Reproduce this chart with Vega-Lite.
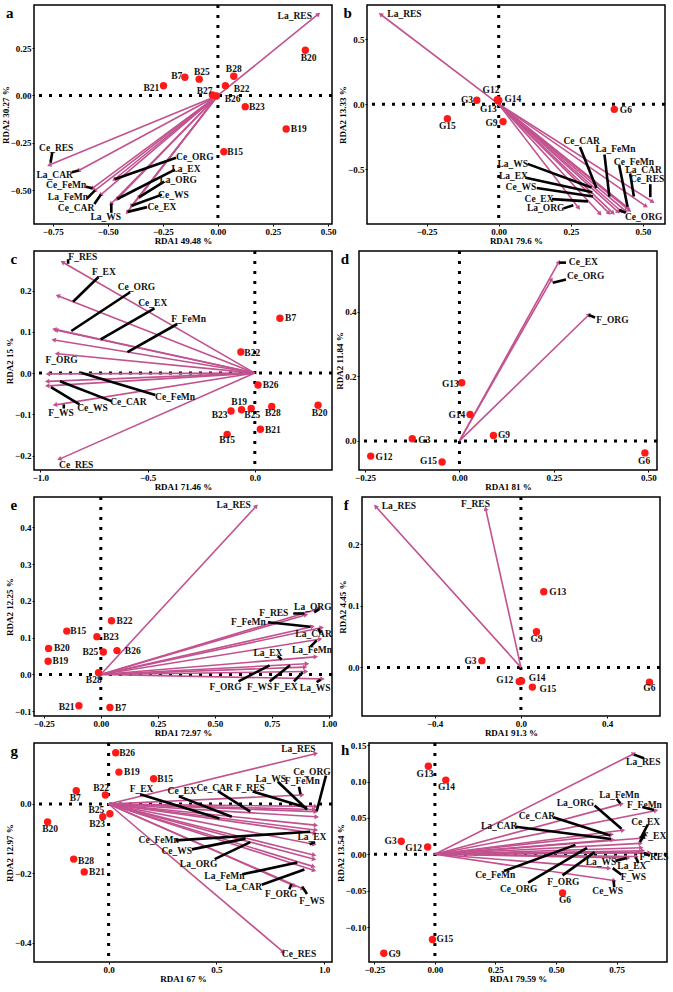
{
"$schema": "https://vega.github.io/schema/vega-lite/v6.json",
"padding": {"left": 0, "top": 2, "right": 0, "bottom": 0},
"config": {
 "view": {"stroke": "black", "strokeWidth": 1.5},
 "axis": {"grid": false, "domain": false, "tickColor": "black", "tickSize": 2, "labelFont": "Liberation Serif", "labelFontWeight": "bold", "labelFontSize": 9, "labelColor": "black", "labelPadding": 1, "labelOverlap": false, "labelFlush": false, "titleFont": "Liberation Serif", "titleFontWeight": "bold", "titleFontSize": 9, "titleColor": "black", "titlePadding": 0},
 "title": {"font": "Liberation Serif", "fontWeight": "bold", "fontSize": 15, "anchor": "start", "offset": -17, "dx": 5, "color": "black"},
 "text": {"font": "Liberation Serif", "fontWeight": "bold", "fontSize": 9.5, "color": "#111111"},
 "concat": {"spacing": 0}
},
"datasets": {
"vec": [
{"p":"a","n":"La_RES","x":0.454,"y":0.427,"tx":0.349,"ty":0.418},
{"p":"a","n":"Ce_RES","x":-0.763,"y":-0.366,"tx":-0.734,"ty":-0.277,"ax":-0.760,"ay":-0.355,"bx":-0.752,"by":-0.300},
{"p":"a","n":"La_CAR","x":-0.632,"y":-0.396,"tx":-0.741,"ty":-0.417,"ax":-0.632,"ay":-0.396,"bx":-0.663,"by":-0.405},
{"p":"a","n":"Ce_FeMn","x":-0.569,"y":-0.489,"tx":-0.689,"ty":-0.470,"ax":-0.569,"ay":-0.489,"bx":-0.599,"by":-0.481},
{"p":"a","n":"La_FeMn","x":-0.558,"y":-0.501,"tx":-0.681,"ty":-0.535,"ax":-0.558,"ay":-0.501,"bx":-0.594,"by":-0.543},
{"p":"a","n":"Ce_CAR","x":-0.531,"y":-0.523,"tx":-0.644,"ty":-0.594,"ax":-0.531,"ay":-0.523,"bx":-0.561,"by":-0.573},
{"p":"a","n":"La_WS","x":-0.484,"y":-0.570,"tx":-0.509,"ty":-0.641,"ax":-0.484,"ay":-0.570,"bx":-0.484,"by":-0.619},
{"p":"a","n":"Ce_ORG","x":-0.469,"y":-0.442,"tx":-0.105,"ty":-0.324,"ax":-0.469,"ay":-0.442,"bx":-0.190,"by":-0.329},
{"p":"a","n":"La_EX","x":-0.457,"y":-0.546,"tx":-0.145,"ty":-0.388,"ax":-0.457,"ay":-0.546,"bx":-0.195,"by":-0.391},
{"p":"a","n":"La_ORG","x":-0.359,"y":-0.538,"tx":-0.180,"ty":-0.447,"ax":-0.359,"ay":-0.538,"bx":-0.244,"by":-0.454},
{"p":"a","n":"Ce_WS","x":-0.392,"y":-0.582,"tx":-0.202,"ty":-0.523,"ax":-0.392,"ay":-0.582,"bx":-0.254,"by":-0.523},
{"p":"a","n":"Ce_EX","x":-0.410,"y":-0.614,"tx":-0.254,"ty":-0.589,"ax":-0.410,"ay":-0.614,"bx":-0.322,"by":-0.589},

{"p":"b","n":"La_RES","x":-0.408,"y":0.687,"tx":-0.327,"ty":0.692},
{"p":"b","n":"Ce_CAR","x":0.424,"y":-0.821,"tx":0.288,"ty":-0.280,"ax":0.282,"ay":-0.330,"bx":0.339,"by":-0.645},
{"p":"b","n":"La_FeMn","x":0.439,"y":-0.819,"tx":0.405,"ty":-0.342,"ax":0.367,"ay":-0.387,"bx":0.384,"by":-0.710},
{"p":"b","n":"Ce_FeMn","x":0.447,"y":-0.794,"tx":0.469,"ty":-0.442,"ax":0.418,"ay":-0.467,"bx":0.447,"by":-0.789},
{"p":"b","n":"La_CAR","x":0.509,"y":-0.782,"tx":0.503,"ty":-0.509,"ax":0.456,"ay":-0.533,"bx":0.469,"by":-0.710},
{"p":"b","n":"Ce_RES","x":0.532,"y":-0.747,"tx":0.515,"ty":-0.573,"ax":0.526,"ay":-0.615,"bx":0.526,"by":-0.715},
{"p":"b","n":"La_WS","x":0.413,"y":-0.826,"tx":0.049,"ty":-0.459,"ax":0.100,"ay":-0.459,"bx":0.322,"by":-0.640},
{"p":"b","n":"La_EX","x":0.395,"y":-0.834,"tx":0.051,"ty":-0.553,"ax":0.094,"ay":-0.566,"bx":0.325,"by":-0.677},
{"p":"b","n":"Ce_WS","x":0.381,"y":-0.834,"tx":0.077,"ty":-0.635,"ax":0.132,"ay":-0.645,"bx":0.327,"by":-0.710},
{"p":"b","n":"Ce_EX","x":0.350,"y":-0.839,"tx":0.140,"ty":-0.730,"ax":0.185,"ay":-0.730,"bx":0.310,"by":-0.747},
{"p":"b","n":"La_ORG","x":0.276,"y":-0.794,"tx":0.163,"ty":-0.801,"ax":0.225,"ay":-0.801,"bx":0.259,"by":-0.777},
{"p":"b","n":"Ce_ORG","x":0.452,"y":-0.814,"tx":0.503,"ty":-0.864,"ax":0.441,"ay":-0.834,"bx":0.418,"by":-0.814},

{"p":"c","n":"F_RES","x":-0.894,"y":0.268,"tx":-0.802,"ty":0.281,"ax":-0.871,"ay":0.265,"bx":-0.871,"by":0.276},
{"p":"c","n":"F_EX","x":-0.916,"y":0.187,"tx":-0.704,"ty":0.245,"ax":-0.848,"ay":0.173,"bx":-0.729,"by":0.233},
{"p":"c","n":"Ce_ORG","x":-0.932,"y":0.106,"tx":-0.552,"ty":0.209,"ax":-0.856,"ay":0.102,"bx":-0.582,"by":0.196},
{"p":"c","n":"Ce_EX","x":-0.924,"y":0.104,"tx":-0.476,"ty":0.170,"ax":-0.719,"ay":0.082,"bx":-0.468,"by":0.157},
{"p":"c","n":"F_FeMn","x":-0.935,"y":0.080,"tx":-0.309,"ty":0.131,"ax":-0.594,"ay":0.051,"bx":-0.362,"by":0.119},
{"p":"c","n":"F_ORG","x":-0.919,"y":0.047,"tx":-0.901,"ty":0.031},
{"p":"c","n":"Ce_FeMn","x":-0.962,"y":-0.002,"tx":-0.372,"ty":-0.057,"ax":-0.807,"ay":0.000,"bx":-0.464,"by":-0.053},
{"p":"c","n":"Ce_CAR","x":-0.965,"y":-0.020,"tx":-0.590,"ty":-0.071,"ax":-0.909,"ay":-0.020,"bx":-0.669,"by":-0.068},
{"p":"c","n":"Ce_WS","x":-0.965,"y":-0.031,"tx":-0.757,"ty":-0.084,"ax":-0.951,"ay":-0.034,"bx":-0.818,"by":-0.076},
{"p":"c","n":"F_WS","x":-0.929,"y":-0.077,"tx":-0.904,"ty":-0.098,"ax":-0.891,"ay":-0.076,"bx":-0.891,"by":-0.086},
{"p":"c","n":"Ce_RES","x":-0.909,"y":-0.208,"tx":-0.833,"ty":-0.222},

{"p":"d","n":"Ce_EX","x":0.262,"y":0.552,"tx":0.328,"ty":0.553,"ax":0.264,"ay":0.552,"bx":0.282,"by":0.552},
{"p":"d","n":"Ce_ORG","x":0.243,"y":0.498,"tx":0.334,"ty":0.510,"ax":0.247,"ay":0.490,"bx":0.282,"by":0.500},
{"p":"d","n":"F_ORG","x":0.342,"y":0.390,"tx":0.405,"ty":0.375,"ax":0.342,"ay":0.390,"bx":0.359,"by":0.382},

{"p":"e","n":"La_RES","x":0.680,"y":0.457,"tx":0.583,"ty":0.460},
{"p":"e","n":"La_ORG","x":0.957,"y":0.179,"tx":0.930,"ty":0.185,"ax":0.936,"ay":0.169,"bx":0.957,"by":0.178},
{"p":"e","n":"F_RES","x":0.897,"y":0.162,"tx":0.759,"ty":0.168,"ax":0.844,"ay":0.166,"bx":0.893,"by":0.166},
{"p":"e","n":"F_FeMn","x":0.926,"y":0.130,"tx":0.647,"ty":0.144,"ax":0.733,"ay":0.142,"bx":0.919,"by":0.130},
{"p":"e","n":"La_CAR","x":0.966,"y":0.127,"tx":0.933,"ty":0.110,"ax":0.954,"ay":0.125,"bx":0.964,"by":0.112},
{"p":"e","n":"La_FeMn","x":0.959,"y":0.096,"tx":0.926,"ty":0.066,"ax":0.919,"ay":0.075,"bx":0.947,"by":0.093},
{"p":"e","n":"La_EX","x":0.940,"y":0.048,"tx":0.733,"ty":0.059,"ax":0.776,"ay":0.050,"bx":0.793,"by":0.041},
{"p":"e","n":"F_ORG","x":0.901,"y":0.029,"tx":0.547,"ty":-0.033,"ax":0.604,"ay":-0.019,"bx":0.740,"by":0.025},
{"p":"e","n":"F_WS","x":0.893,"y":0.020,"tx":0.697,"ty":-0.033,"ax":0.740,"ay":-0.019,"bx":0.830,"by":0.025},
{"p":"e","n":"F_EX","x":0.897,"y":0.008,"tx":0.811,"ty":-0.033,"ax":0.847,"ay":-0.019,"bx":0.886,"by":0.006},
{"p":"e","n":"La_WS","x":0.969,"y":-0.012,"tx":0.940,"ty":-0.037,"ax":0.947,"ay":-0.021,"bx":0.964,"by":-0.014},

{"p":"f","n":"La_RES","x":-0.672,"y":0.261,"tx":-0.566,"ty":0.262},
{"p":"f","n":"F_RES","x":-0.163,"y":0.257,"tx":-0.211,"ty":0.266},

{"p":"g","n":"La_RES","x":0.958,"y":0.145,"tx":0.880,"ty":0.160},
{"p":"g","n":"F_FeMn","x":0.895,"y":0.026,"tx":0.898,"ty":0.066,"ax":0.883,"ay":0.050,"bx":0.890,"by":0.028},
{"p":"g","n":"F_RES","x":0.958,"y":-0.007,"tx":0.657,"ty":0.045,"ax":0.668,"ay":0.036,"bx":0.920,"by":-0.011},
{"p":"g","n":"La_WS","x":0.950,"y":-0.016,"tx":0.752,"ty":0.071,"ax":0.785,"ay":0.064,"bx":0.920,"by":-0.016},
{"p":"g","n":"Ce_ORG","x":0.958,"y":-0.022,"tx":0.943,"ty":0.092,"ax":1.008,"ay":0.082,"bx":0.965,"by":-0.021},
{"p":"g","n":"Ce_CAR","x":0.962,"y":-0.037,"tx":0.492,"ty":0.045,"ax":0.507,"ay":0.037,"bx":0.657,"by":-0.022},
{"p":"g","n":"Ce_EX","x":0.958,"y":-0.061,"tx":0.341,"ty":0.037,"ax":0.326,"ay":0.022,"bx":0.571,"by":-0.037},
{"p":"g","n":"Ce_FeMn","x":0.958,"y":-0.075,"tx":0.232,"ty":-0.105,"ax":0.311,"ay":-0.105,"bx":0.935,"by":-0.080},
{"p":"g","n":"F_EX","x":0.953,"y":-0.084,"tx":0.153,"ty":0.042,"ax":0.146,"ay":0.028,"bx":0.514,"by":-0.042},
{"p":"g","n":"La_EX","x":0.950,"y":-0.116,"tx":0.943,"ty":-0.096,"ax":0.932,"ay":-0.116,"bx":0.958,"by":-0.110},
{"p":"g","n":"Ce_WS","x":0.950,"y":-0.147,"tx":0.316,"ty":-0.135,"ax":0.386,"ay":-0.131,"bx":0.635,"by":-0.100},
{"p":"g","n":"La_ORG","x":0.950,"y":-0.159,"tx":0.417,"ty":-0.173,"ax":0.492,"ay":-0.159,"bx":0.657,"by":-0.110},
{"p":"g","n":"La_FeMn","x":0.947,"y":-0.180,"tx":0.537,"ty":-0.208,"ax":0.620,"ay":-0.203,"bx":0.875,"by":-0.169},
{"p":"g","n":"La_CAR","x":0.950,"y":-0.191,"tx":0.627,"ty":-0.239,"ax":0.710,"ay":-0.233,"bx":0.908,"by":-0.189},
{"p":"g","n":"F_ORG","x":0.860,"y":-0.236,"tx":0.800,"ty":-0.260,"ax":0.838,"ay":-0.246,"bx":0.848,"by":-0.231},
{"p":"g","n":"F_WS","x":0.898,"y":-0.244,"tx":0.943,"ty":-0.280,"ax":0.920,"ay":-0.260,"bx":0.898,"by":-0.239},
{"p":"g","n":"Ce_RES","x":0.808,"y":-0.426,"tx":0.883,"ty":-0.433},

{"p":"h","n":"La_RES","x":0.819,"y":0.138,"tx":0.860,"ty":0.127,"ax":0.822,"ay":0.137,"bx":0.863,"by":0.132},
{"p":"h","n":"La_FeMn","x":0.768,"y":0.069,"tx":0.761,"ty":0.082,"ax":0.751,"ay":0.076,"bx":0.765,"by":0.070},
{"p":"h","n":"F_FeMn","x":0.910,"y":0.060,"tx":0.865,"ty":0.068,"ax":0.856,"ay":0.065,"bx":0.904,"by":0.061},
{"p":"h","n":"La_ORG","x":0.774,"y":0.033,"tx":0.580,"ty":0.070,"ax":0.659,"ay":0.067,"bx":0.770,"by":0.035},
{"p":"h","n":"Ce_EX","x":0.849,"y":0.022,"tx":0.870,"ty":0.045,"ax":0.879,"ay":0.041,"bx":0.849,"by":0.022},
{"p":"h","n":"Ce_CAR","x":0.727,"y":0.027,"tx":0.421,"ty":0.053,"ax":0.489,"ay":0.051,"bx":0.724,"by":0.026},
{"p":"h","n":"La_CAR","x":0.730,"y":0.020,"tx":0.265,"ty":0.039,"ax":0.333,"ay":0.038,"bx":0.727,"by":0.021},
{"p":"h","n":"F_EX","x":0.846,"y":0.015,"tx":0.906,"ty":0.025,"ax":0.870,"ay":0.029,"bx":0.846,"by":0.017},
{"p":"h","n":"Ce_FeMn","x":0.849,"y":0.009,"tx":0.249,"ty":-0.029,"ax":0.285,"ay":-0.023,"bx":0.580,"by":0.013},
{"p":"h","n":"Ce_ORG","x":0.856,"y":0.005,"tx":0.346,"ty":-0.048,"ax":0.385,"ay":-0.039,"bx":0.628,"by":0.009},
{"p":"h","n":"F_ORG","x":0.842,"y":0.003,"tx":0.530,"ty":-0.038,"ax":0.527,"ay":-0.029,"bx":0.659,"by":0.003},
{"p":"h","n":"F_RES","x":0.883,"y":0.002,"tx":0.904,"ty":-0.004,"ax":0.863,"ay":0.002,"bx":0.887,"by":-0.002},
{"p":"h","n":"La_WS","x":0.795,"y":-0.005,"tx":0.686,"ty":-0.010,"ax":0.745,"ay":-0.009,"bx":0.792,"by":-0.005},
{"p":"h","n":"La_EX","x":0.829,"y":-0.003,"tx":0.813,"ty":-0.016,"ax":0.829,"ay":-0.004,"bx":0.840,"by":-0.012},
{"p":"h","n":"F_WS","x":0.716,"y":-0.019,"tx":0.819,"ty":-0.031,"ax":0.734,"ay":-0.019,"bx":0.770,"by":-0.028},
{"p":"h","n":"Ce_WS","x":0.738,"y":-0.036,"tx":0.713,"ty":-0.050,"ax":0.738,"ay":-0.036,"bx":0.740,"by":-0.045}
],
"site": [
{"p":"a","n":"B20","x":0.397,"y":0.238,"tx":0.412,"ty":0.199},
{"p":"a","n":"B28","x":0.072,"y":0.101,"tx":0.072,"ty":0.140},
{"p":"a","n":"B22","x":0.034,"y":0.051,"tx":0.108,"ty":0.034},
{"p":"a","n":"B25","x":-0.085,"y":0.086,"tx":-0.073,"ty":0.123},
{"p":"a","n":"B7","x":-0.150,"y":0.096,"tx":-0.187,"ty":0.101},
{"p":"a","n":"B21","x":-0.247,"y":0.051,"tx":-0.302,"ty":0.039},
{"p":"a","n":"B27","x":-0.025,"y":0.002,"tx":-0.060,"ty":0.022},
{"p":"a","n":"B26","x":-0.007,"y":-0.003,"tx":0.067,"ty":-0.020},
{"p":"a","n":"B23","x":0.124,"y":-0.059,"tx":0.177,"ty":-0.062},
{"p":"a","n":"B19","x":0.310,"y":-0.177,"tx":0.367,"ty":-0.177},
{"p":"a","n":"B15","x":0.027,"y":-0.297,"tx":0.078,"ty":-0.298},

{"p":"b","n":"G3","x":-0.076,"y":0.030,"tx":-0.110,"ty":0.030},
{"p":"b","n":"G12","x":-0.005,"y":0.035,"tx":-0.027,"ty":0.109},
{"p":"b","n":"G14","x":0.000,"y":0.030,"tx":0.049,"ty":0.037},
{"p":"b","n":"G13","x":-0.002,"y":0.025,"tx":-0.036,"ty":-0.040},
{"p":"b","n":"G6","x":0.401,"y":-0.040,"tx":0.441,"ty":-0.045},
{"p":"b","n":"G15","x":-0.178,"y":-0.112,"tx":-0.178,"ty":-0.169},
{"p":"b","n":"G9","x":0.015,"y":-0.134,"tx":-0.025,"ty":-0.144},

{"p":"c","n":"B7","x":0.117,"y":0.133,"tx":0.167,"ty":0.133},
{"p":"c","n":"B22","x":-0.065,"y":0.051,"tx":-0.012,"ty":0.049},
{"p":"c","n":"B26","x":0.015,"y":-0.029,"tx":0.074,"ty":-0.029},
{"p":"c","n":"B19","x":-0.062,"y":-0.089,"tx":-0.073,"ty":-0.071},
{"p":"c","n":"B25","x":-0.017,"y":-0.086,"tx":-0.012,"ty":-0.102},
{"p":"c","n":"B23","x":-0.111,"y":-0.092,"tx":-0.164,"ty":-0.102},
{"p":"c","n":"B28","x":0.079,"y":-0.081,"tx":0.084,"ty":-0.098},
{"p":"c","n":"B20","x":0.295,"y":-0.078,"tx":0.302,"ty":-0.097},
{"p":"c","n":"B21","x":0.026,"y":-0.136,"tx":0.084,"ty":-0.137},
{"p":"c","n":"B15","x":-0.129,"y":-0.149,"tx":-0.129,"ty":-0.163},

{"p":"d","n":"G13","x":0.006,"y":0.180,"tx":-0.024,"ty":0.177},
{"p":"d","n":"G14","x":0.028,"y":0.082,"tx":-0.007,"ty":0.079},
{"p":"d","n":"G9","x":0.090,"y":0.017,"tx":0.118,"ty":0.017},
{"p":"d","n":"G3","x":-0.125,"y":0.007,"tx":-0.093,"ty":0.004},
{"p":"d","n":"G12","x":-0.235,"y":-0.047,"tx":-0.200,"ty":-0.049},
{"p":"d","n":"G15","x":-0.046,"y":-0.065,"tx":-0.082,"ty":-0.062},
{"p":"d","n":"G6","x":0.491,"y":-0.037,"tx":0.489,"ty":-0.062},

{"p":"e","n":"B22","x":0.047,"y":0.146,"tx":0.104,"ty":0.146},
{"p":"e","n":"B15","x":-0.149,"y":0.118,"tx":-0.099,"ty":0.118},
{"p":"e","n":"B23","x":-0.017,"y":0.103,"tx":0.044,"ty":0.103},
{"p":"e","n":"B20","x":-0.229,"y":0.071,"tx":-0.171,"ty":0.071},
{"p":"e","n":"B25","x":0.011,"y":0.061,"tx":-0.046,"ty":0.061},
{"p":"e","n":"B26","x":0.071,"y":0.065,"tx":0.140,"ty":0.063},
{"p":"e","n":"B19","x":-0.231,"y":0.036,"tx":-0.177,"ty":0.036},
{"p":"e","n":"B28","x":-0.010,"y":0.005,"tx":-0.031,"ty":-0.016},
{"p":"e","n":"B21","x":-0.096,"y":-0.085,"tx":-0.150,"ty":-0.088},
{"p":"e","n":"B7","x":0.040,"y":-0.090,"tx":0.087,"ty":-0.090},

{"p":"f","n":"G13","x":0.106,"y":0.123,"tx":0.171,"ty":0.123},
{"p":"f","n":"G9","x":0.072,"y":0.058,"tx":0.072,"ty":0.046},
{"p":"f","n":"G3","x":-0.181,"y":0.011,"tx":-0.234,"ty":0.011},
{"p":"f","n":"G12","x":-0.008,"y":-0.023,"tx":-0.075,"ty":-0.020},
{"p":"f","n":"G14","x":0.003,"y":-0.022,"tx":0.075,"ty":-0.017},
{"p":"f","n":"G15","x":0.053,"y":-0.032,"tx":0.125,"ty":-0.035},
{"p":"f","n":"G6","x":0.596,"y":-0.024,"tx":0.596,"ty":-0.034},

{"p":"g","n":"B26","x":0.033,"y":0.148,"tx":0.086,"ty":0.148},
{"p":"g","n":"B19","x":0.048,"y":0.092,"tx":0.108,"ty":0.092},
{"p":"g","n":"B15","x":0.209,"y":0.073,"tx":0.262,"ty":0.073},
{"p":"g","n":"B7","x":-0.150,"y":0.038,"tx":-0.155,"ty":0.017},
{"p":"g","n":"B22","x":-0.015,"y":0.026,"tx":-0.035,"ty":0.047},
{"p":"g","n":"B25","x":0.006,"y":-0.028,"tx":-0.057,"ty":-0.016},
{"p":"g","n":"B23","x":-0.027,"y":-0.037,"tx":-0.053,"ty":-0.058},
{"p":"g","n":"B20","x":-0.283,"y":-0.052,"tx":-0.271,"ty":-0.072},
{"p":"g","n":"B28","x":-0.162,"y":-0.159,"tx":-0.105,"ty":-0.164},
{"p":"g","n":"B21","x":-0.113,"y":-0.196,"tx":-0.054,"ty":-0.196},

{"p":"h","n":"G13","x":-0.027,"y":0.121,"tx":-0.041,"ty":0.111},
{"p":"h","n":"G14","x":0.045,"y":0.102,"tx":0.048,"ty":0.093},
{"p":"h","n":"G3","x":-0.139,"y":0.018,"tx":-0.183,"ty":0.018},
{"p":"h","n":"G12","x":-0.030,"y":0.010,"tx":-0.088,"ty":0.009},
{"p":"h","n":"G6","x":0.527,"y":-0.053,"tx":0.537,"ty":-0.063},
{"p":"h","n":"G15","x":-0.010,"y":-0.117,"tx":0.041,"ty":-0.117},
{"p":"h","n":"G9","x":-0.211,"y":-0.136,"tx":-0.167,"ty":-0.137}
]
},
"vconcat": [
{"hconcat": [
{"width": 298, "height": 219, "title": {"text": "a"}, "layer": [
 {"data": {"values": [{}]}, "mark": {"type": "rule", "strokeDash": [3, 7], "strokeWidth": 3, "color": "black"}, "encoding": {"x": {"datum": 0, "type": "quantitative", "scale": {"domain": [-0.835, 0.518], "nice": false, "zero": false}, "axis": {"title": "RDA1 49.48 %", "values": [-0.75, -0.5, -0.25, 0, 0.25, 0.5], "format": ".2f"}}}},
 {"data": {"values": [{}]}, "mark": {"type": "rule", "strokeDash": [3, 7], "strokeWidth": 3, "color": "black"}, "encoding": {"y": {"datum": 0, "type": "quantitative", "scale": {"domain": [-0.678, 0.477], "nice": false, "zero": false}, "axis": {"title": "RDA2 30.27 %", "values": [-0.5, -0.25, 0, 0.25], "format": ".2f"}}}},
 {"data": {"name": "vec"}, "transform": [{"filter": "datum.p == 'a'"}], "mark": {"type": "rule", "color": "#C2528F", "strokeWidth": 1.6}, "encoding": {"x": {"field": "x", "type": "quantitative"}, "y": {"field": "y", "type": "quantitative"}, "x2": {"datum": 0}, "y2": {"datum": 0}}},
 {"data": {"name": "vec"}, "transform": [{"filter": "datum.p == 'a'"}, {"calculate": "atan2(datum.x * 220.2, datum.y * 189.6) * 180 / PI", "as": "ang"}], "mark": {"type": "point", "shape": "triangle", "filled": true, "color": "#C2528F", "size": 26, "opacity": 1}, "encoding": {"x": {"field": "x", "type": "quantitative"}, "y": {"field": "y", "type": "quantitative"}, "angle": {"field": "ang", "type": "quantitative", "scale": null}}},
 {"data": {"name": "vec"}, "transform": [{"filter": "datum.p == 'a' && isValid(datum.ax)"}], "mark": {"type": "rule", "color": "black", "strokeWidth": 2.6}, "encoding": {"x": {"field": "ax", "type": "quantitative"}, "y": {"field": "ay", "type": "quantitative"}, "x2": {"field": "bx"}, "y2": {"field": "by"}}},
 {"data": {"name": "vec"}, "transform": [{"filter": "datum.p == 'a'"}], "mark": {"type": "text"}, "encoding": {"x": {"field": "tx", "type": "quantitative"}, "y": {"field": "ty", "type": "quantitative"}, "text": {"field": "n"}}},
 {"data": {"name": "site"}, "transform": [{"filter": "datum.p == 'a'"}], "mark": {"type": "point", "shape": "circle", "filled": true, "color": "#FF1A1A", "size": 55, "opacity": 1}, "encoding": {"x": {"field": "x", "type": "quantitative"}, "y": {"field": "y", "type": "quantitative"}}},
 {"data": {"name": "site"}, "transform": [{"filter": "datum.p == 'a'"}], "mark": {"type": "text"}, "encoding": {"x": {"field": "tx", "type": "quantitative"}, "y": {"field": "ty", "type": "quantitative"}, "text": {"field": "n"}}}
]},
{"width": 298, "height": 219, "title": {"text": "b"}, "layer": [
 {"data": {"values": [{}]}, "mark": {"type": "rule", "strokeDash": [3, 7], "strokeWidth": 3, "color": "black"}, "encoding": {"x": {"datum": 0, "type": "quantitative", "scale": {"domain": [-0.457, 0.577], "nice": false, "zero": false}, "axis": {"title": "RDA1 79.6 %", "values": [-0.25, 0, 0.25, 0.5], "format": ".2f"}}}},
 {"data": {"values": [{}]}, "mark": {"type": "rule", "strokeDash": [3, 7], "strokeWidth": 3, "color": "black"}, "encoding": {"y": {"datum": 0, "type": "quantitative", "scale": {"domain": [-0.921, 0.762], "nice": false, "zero": false}, "axis": {"title": "RDA2 13.33 %", "values": [-0.5, 0, 0.5], "format": ".1f"}}}},
 {"data": {"name": "vec"}, "transform": [{"filter": "datum.p == 'b'"}], "mark": {"type": "rule", "color": "#C2528F", "strokeWidth": 1.6}, "encoding": {"x": {"field": "x", "type": "quantitative"}, "y": {"field": "y", "type": "quantitative"}, "x2": {"datum": 0}, "y2": {"datum": 0}}},
 {"data": {"name": "vec"}, "transform": [{"filter": "datum.p == 'b'"}, {"calculate": "atan2(datum.x * 288.2, datum.y * 130.1) * 180 / PI", "as": "ang"}], "mark": {"type": "point", "shape": "triangle", "filled": true, "color": "#C2528F", "size": 26, "opacity": 1}, "encoding": {"x": {"field": "x", "type": "quantitative"}, "y": {"field": "y", "type": "quantitative"}, "angle": {"field": "ang", "type": "quantitative", "scale": null}}},
 {"data": {"name": "vec"}, "transform": [{"filter": "datum.p == 'b' && isValid(datum.ax)"}], "mark": {"type": "rule", "color": "black", "strokeWidth": 2.6}, "encoding": {"x": {"field": "ax", "type": "quantitative"}, "y": {"field": "ay", "type": "quantitative"}, "x2": {"field": "bx"}, "y2": {"field": "by"}}},
 {"data": {"name": "vec"}, "transform": [{"filter": "datum.p == 'b'"}], "mark": {"type": "text"}, "encoding": {"x": {"field": "tx", "type": "quantitative"}, "y": {"field": "ty", "type": "quantitative"}, "text": {"field": "n"}}},
 {"data": {"name": "site"}, "transform": [{"filter": "datum.p == 'b'"}], "mark": {"type": "point", "shape": "circle", "filled": true, "color": "#FF1A1A", "size": 55, "opacity": 1}, "encoding": {"x": {"field": "x", "type": "quantitative"}, "y": {"field": "y", "type": "quantitative"}}},
 {"data": {"name": "site"}, "transform": [{"filter": "datum.p == 'b'"}], "mark": {"type": "text"}, "encoding": {"x": {"field": "tx", "type": "quantitative"}, "y": {"field": "ty", "type": "quantitative"}, "text": {"field": "n"}}}
]}
]},
{"hconcat": [
{"width": 298, "height": 219, "title": {"text": "c"}, "layer": [
 {"data": {"values": [{}]}, "mark": {"type": "rule", "strokeDash": [3, 7], "strokeWidth": 3, "color": "black"}, "encoding": {"x": {"datum": 0, "type": "quantitative", "scale": {"domain": [-1.03, 0.36], "nice": false, "zero": false}, "axis": {"title": "RDA1 71.46 %", "values": [-1, -0.5, 0], "format": ".1f"}}}},
 {"data": {"values": [{}]}, "mark": {"type": "rule", "strokeDash": [3, 7], "strokeWidth": 3, "color": "black"}, "encoding": {"y": {"datum": 0, "type": "quantitative", "scale": {"domain": [-0.235, 0.296], "nice": false, "zero": false}, "axis": {"title": "RDA2 15 %", "values": [-0.2, -0.1, 0, 0.1, 0.2], "format": ".1f"}}}},
 {"data": {"name": "vec"}, "transform": [{"filter": "datum.p == 'c'"}], "mark": {"type": "rule", "color": "#C2528F", "strokeWidth": 1.6}, "encoding": {"x": {"field": "x", "type": "quantitative"}, "y": {"field": "y", "type": "quantitative"}, "x2": {"datum": 0}, "y2": {"datum": 0}}},
 {"data": {"name": "vec"}, "transform": [{"filter": "datum.p == 'c'"}, {"calculate": "atan2(datum.x * 214.4, datum.y * 412.4) * 180 / PI", "as": "ang"}], "mark": {"type": "point", "shape": "triangle", "filled": true, "color": "#C2528F", "size": 26, "opacity": 1}, "encoding": {"x": {"field": "x", "type": "quantitative"}, "y": {"field": "y", "type": "quantitative"}, "angle": {"field": "ang", "type": "quantitative", "scale": null}}},
 {"data": {"name": "vec"}, "transform": [{"filter": "datum.p == 'c' && isValid(datum.ax)"}], "mark": {"type": "rule", "color": "black", "strokeWidth": 2.6}, "encoding": {"x": {"field": "ax", "type": "quantitative"}, "y": {"field": "ay", "type": "quantitative"}, "x2": {"field": "bx"}, "y2": {"field": "by"}}},
 {"data": {"name": "vec"}, "transform": [{"filter": "datum.p == 'c'"}], "mark": {"type": "text"}, "encoding": {"x": {"field": "tx", "type": "quantitative"}, "y": {"field": "ty", "type": "quantitative"}, "text": {"field": "n"}}},
 {"data": {"name": "site"}, "transform": [{"filter": "datum.p == 'c'"}], "mark": {"type": "point", "shape": "circle", "filled": true, "color": "#FF1A1A", "size": 55, "opacity": 1}, "encoding": {"x": {"field": "x", "type": "quantitative"}, "y": {"field": "y", "type": "quantitative"}}},
 {"data": {"name": "site"}, "transform": [{"filter": "datum.p == 'c'"}], "mark": {"type": "text"}, "encoding": {"x": {"field": "tx", "type": "quantitative"}, "y": {"field": "ty", "type": "quantitative"}, "text": {"field": "n"}}}
]},
{"width": 298, "height": 219, "title": {"text": "d"}, "layer": [
 {"data": {"values": [{}]}, "mark": {"type": "rule", "strokeDash": [3, 7], "strokeWidth": 3, "color": "black"}, "encoding": {"x": {"datum": 0, "type": "quantitative", "scale": {"domain": [-0.266, 0.523], "nice": false, "zero": false}, "axis": {"title": "RDA1 81 %", "values": [-0.25, 0, 0.25, 0.5], "format": ".2f"}}}},
 {"data": {"values": [{}]}, "mark": {"type": "rule", "strokeDash": [3, 7], "strokeWidth": 3, "color": "black"}, "encoding": {"y": {"datum": 0, "type": "quantitative", "scale": {"domain": [-0.09, 0.588], "nice": false, "zero": false}, "axis": {"title": "RDA2 11.84 %", "values": [0, 0.2, 0.4], "format": ".1f"}}}},
 {"data": {"name": "vec"}, "transform": [{"filter": "datum.p == 'd'"}], "mark": {"type": "rule", "color": "#C2528F", "strokeWidth": 1.6}, "encoding": {"x": {"field": "x", "type": "quantitative"}, "y": {"field": "y", "type": "quantitative"}, "x2": {"datum": 0}, "y2": {"datum": 0}}},
 {"data": {"name": "vec"}, "transform": [{"filter": "datum.p == 'd'"}, {"calculate": "atan2(datum.x * 377.7, datum.y * 323.0) * 180 / PI", "as": "ang"}], "mark": {"type": "point", "shape": "triangle", "filled": true, "color": "#C2528F", "size": 26, "opacity": 1}, "encoding": {"x": {"field": "x", "type": "quantitative"}, "y": {"field": "y", "type": "quantitative"}, "angle": {"field": "ang", "type": "quantitative", "scale": null}}},
 {"data": {"name": "vec"}, "transform": [{"filter": "datum.p == 'd' && isValid(datum.ax)"}], "mark": {"type": "rule", "color": "black", "strokeWidth": 2.6}, "encoding": {"x": {"field": "ax", "type": "quantitative"}, "y": {"field": "ay", "type": "quantitative"}, "x2": {"field": "bx"}, "y2": {"field": "by"}}},
 {"data": {"name": "vec"}, "transform": [{"filter": "datum.p == 'd'"}], "mark": {"type": "text"}, "encoding": {"x": {"field": "tx", "type": "quantitative"}, "y": {"field": "ty", "type": "quantitative"}, "text": {"field": "n"}}},
 {"data": {"name": "site"}, "transform": [{"filter": "datum.p == 'd'"}], "mark": {"type": "point", "shape": "circle", "filled": true, "color": "#FF1A1A", "size": 55, "opacity": 1}, "encoding": {"x": {"field": "x", "type": "quantitative"}, "y": {"field": "y", "type": "quantitative"}}},
 {"data": {"name": "site"}, "transform": [{"filter": "datum.p == 'd'"}], "mark": {"type": "text"}, "encoding": {"x": {"field": "tx", "type": "quantitative"}, "y": {"field": "ty", "type": "quantitative"}, "text": {"field": "n"}}}
]}
]},
{"hconcat": [
{"width": 298, "height": 219, "title": {"text": "e"}, "layer": [
 {"data": {"values": [{}]}, "mark": {"type": "rule", "strokeDash": [3, 7], "strokeWidth": 3, "color": "black"}, "encoding": {"x": {"datum": 0, "type": "quantitative", "scale": {"domain": [-0.293, 1.014], "nice": false, "zero": false}, "axis": {"title": "RDA1 72.97 %", "values": [-0.25, 0, 0.25, 0.5, 0.75, 1], "format": ".2f"}}}},
 {"data": {"values": [{}]}, "mark": {"type": "rule", "strokeDash": [3, 7], "strokeWidth": 3, "color": "black"}, "encoding": {"y": {"datum": 0, "type": "quantitative", "scale": {"domain": [-0.113, 0.483], "nice": false, "zero": false}, "axis": {"title": "RDA2 12.25 %", "values": [-0.1, 0, 0.1, 0.2, 0.3, 0.4], "format": ".1f"}}}},
 {"data": {"name": "vec"}, "transform": [{"filter": "datum.p == 'e'"}], "mark": {"type": "rule", "color": "#C2528F", "strokeWidth": 1.6}, "encoding": {"x": {"field": "x", "type": "quantitative"}, "y": {"field": "y", "type": "quantitative"}, "x2": {"datum": 0}, "y2": {"datum": 0}}},
 {"data": {"name": "vec"}, "transform": [{"filter": "datum.p == 'e'"}, {"calculate": "atan2(datum.x * 228.0, datum.y * 367.4) * 180 / PI", "as": "ang"}], "mark": {"type": "point", "shape": "triangle", "filled": true, "color": "#C2528F", "size": 26, "opacity": 1}, "encoding": {"x": {"field": "x", "type": "quantitative"}, "y": {"field": "y", "type": "quantitative"}, "angle": {"field": "ang", "type": "quantitative", "scale": null}}},
 {"data": {"name": "vec"}, "transform": [{"filter": "datum.p == 'e' && isValid(datum.ax)"}], "mark": {"type": "rule", "color": "black", "strokeWidth": 2.6}, "encoding": {"x": {"field": "ax", "type": "quantitative"}, "y": {"field": "ay", "type": "quantitative"}, "x2": {"field": "bx"}, "y2": {"field": "by"}}},
 {"data": {"name": "vec"}, "transform": [{"filter": "datum.p == 'e'"}], "mark": {"type": "text"}, "encoding": {"x": {"field": "tx", "type": "quantitative"}, "y": {"field": "ty", "type": "quantitative"}, "text": {"field": "n"}}},
 {"data": {"name": "site"}, "transform": [{"filter": "datum.p == 'e'"}], "mark": {"type": "point", "shape": "circle", "filled": true, "color": "#FF1A1A", "size": 55, "opacity": 1}, "encoding": {"x": {"field": "x", "type": "quantitative"}, "y": {"field": "y", "type": "quantitative"}}},
 {"data": {"name": "site"}, "transform": [{"filter": "datum.p == 'e'"}], "mark": {"type": "text"}, "encoding": {"x": {"field": "tx", "type": "quantitative"}, "y": {"field": "ty", "type": "quantitative"}, "text": {"field": "n"}}}
]},
{"width": 298, "height": 219, "title": {"text": "f"}, "layer": [
 {"data": {"values": [{}]}, "mark": {"type": "rule", "strokeDash": [3, 7], "strokeWidth": 3, "color": "black"}, "encoding": {"x": {"datum": 0, "type": "quantitative", "scale": {"domain": [-0.737, 0.645], "nice": false, "zero": false}, "axis": {"title": "RDA1 91.3 %", "values": [-0.4, 0, 0.4], "format": ".1f"}}}},
 {"data": {"values": [{}]}, "mark": {"type": "rule", "strokeDash": [3, 7], "strokeWidth": 3, "color": "black"}, "encoding": {"y": {"datum": 0, "type": "quantitative", "scale": {"domain": [-0.079, 0.277], "nice": false, "zero": false}, "axis": {"title": "RDA2 4.45 %", "values": [0, 0.1, 0.2], "format": ".1f"}}}},
 {"data": {"name": "vec"}, "transform": [{"filter": "datum.p == 'f'"}], "mark": {"type": "rule", "color": "#C2528F", "strokeWidth": 1.6}, "encoding": {"x": {"field": "x", "type": "quantitative"}, "y": {"field": "y", "type": "quantitative"}, "x2": {"datum": 0}, "y2": {"datum": 0}}},
 {"data": {"name": "vec"}, "transform": [{"filter": "datum.p == 'f'"}, {"calculate": "atan2(datum.x * 215.6, datum.y * 615.2) * 180 / PI", "as": "ang"}], "mark": {"type": "point", "shape": "triangle", "filled": true, "color": "#C2528F", "size": 26, "opacity": 1}, "encoding": {"x": {"field": "x", "type": "quantitative"}, "y": {"field": "y", "type": "quantitative"}, "angle": {"field": "ang", "type": "quantitative", "scale": null}}},
 {"data": {"name": "vec"}, "transform": [{"filter": "datum.p == 'f'"}], "mark": {"type": "text"}, "encoding": {"x": {"field": "tx", "type": "quantitative"}, "y": {"field": "ty", "type": "quantitative"}, "text": {"field": "n"}}},
 {"data": {"name": "site"}, "transform": [{"filter": "datum.p == 'f'"}], "mark": {"type": "point", "shape": "circle", "filled": true, "color": "#FF1A1A", "size": 55, "opacity": 1}, "encoding": {"x": {"field": "x", "type": "quantitative"}, "y": {"field": "y", "type": "quantitative"}}},
 {"data": {"name": "site"}, "transform": [{"filter": "datum.p == 'f'"}], "mark": {"type": "text"}, "encoding": {"x": {"field": "tx", "type": "quantitative"}, "y": {"field": "ty", "type": "quantitative"}, "text": {"field": "n"}}}
]}
]},
{"hconcat": [
{"width": 298, "height": 219, "title": {"text": "g"}, "layer": [
 {"data": {"values": [{}]}, "mark": {"type": "rule", "strokeDash": [3, 7], "strokeWidth": 3, "color": "black"}, "encoding": {"x": {"datum": 0, "type": "quantitative", "scale": {"domain": [-0.346, 1.036], "nice": false, "zero": false}, "axis": {"title": "RDA1 67 %", "values": [0, 0.5, 1], "format": ".1f"}}}},
 {"data": {"values": [{}]}, "mark": {"type": "rule", "strokeDash": [3, 7], "strokeWidth": 3, "color": "black"}, "encoding": {"y": {"datum": 0, "type": "quantitative", "scale": {"domain": [-0.456, 0.176], "nice": false, "zero": false}, "axis": {"title": "RDA2 12.97 %", "values": [-0.4, -0.2, 0], "format": ".1f"}}}},
 {"data": {"name": "vec"}, "transform": [{"filter": "datum.p == 'g'"}], "mark": {"type": "rule", "color": "#C2528F", "strokeWidth": 1.6}, "encoding": {"x": {"field": "x", "type": "quantitative"}, "y": {"field": "y", "type": "quantitative"}, "x2": {"datum": 0}, "y2": {"datum": 0}}},
 {"data": {"name": "vec"}, "transform": [{"filter": "datum.p == 'g'"}, {"calculate": "atan2(datum.x * 215.6, datum.y * 346.5) * 180 / PI", "as": "ang"}], "mark": {"type": "point", "shape": "triangle", "filled": true, "color": "#C2528F", "size": 26, "opacity": 1}, "encoding": {"x": {"field": "x", "type": "quantitative"}, "y": {"field": "y", "type": "quantitative"}, "angle": {"field": "ang", "type": "quantitative", "scale": null}}},
 {"data": {"name": "vec"}, "transform": [{"filter": "datum.p == 'g' && isValid(datum.ax)"}], "mark": {"type": "rule", "color": "black", "strokeWidth": 2.6}, "encoding": {"x": {"field": "ax", "type": "quantitative"}, "y": {"field": "ay", "type": "quantitative"}, "x2": {"field": "bx"}, "y2": {"field": "by"}}},
 {"data": {"name": "vec"}, "transform": [{"filter": "datum.p == 'g'"}], "mark": {"type": "text"}, "encoding": {"x": {"field": "tx", "type": "quantitative"}, "y": {"field": "ty", "type": "quantitative"}, "text": {"field": "n"}}},
 {"data": {"name": "site"}, "transform": [{"filter": "datum.p == 'g'"}], "mark": {"type": "point", "shape": "circle", "filled": true, "color": "#FF1A1A", "size": 55, "opacity": 1}, "encoding": {"x": {"field": "x", "type": "quantitative"}, "y": {"field": "y", "type": "quantitative"}}},
 {"data": {"name": "site"}, "transform": [{"filter": "datum.p == 'g'"}], "mark": {"type": "text"}, "encoding": {"x": {"field": "tx", "type": "quantitative"}, "y": {"field": "ty", "type": "quantitative"}, "text": {"field": "n"}}}
]},
{"width": 298, "height": 219, "title": {"text": "h"}, "layer": [
 {"data": {"values": [{}]}, "mark": {"type": "rule", "strokeDash": [3, 7], "strokeWidth": 3, "color": "black"}, "encoding": {"x": {"datum": 0, "type": "quantitative", "scale": {"domain": [-0.272, 0.958], "nice": false, "zero": false}, "axis": {"title": "RDA1 79.59 %", "values": [-0.25, 0, 0.25, 0.5, 0.75], "format": ".2f"}}}},
 {"data": {"values": [{}]}, "mark": {"type": "rule", "strokeDash": [3, 7], "strokeWidth": 3, "color": "black"}, "encoding": {"y": {"datum": 0, "type": "quantitative", "scale": {"domain": [-0.148, 0.153], "nice": false, "zero": false}, "axis": {"title": "RDA2 13.54 %", "values": [-0.1, -0.05, 0, 0.05, 0.1, 0.15], "format": ".2f"}}}},
 {"data": {"name": "vec"}, "transform": [{"filter": "datum.p == 'h'"}], "mark": {"type": "rule", "color": "#C2528F", "strokeWidth": 1.6}, "encoding": {"x": {"field": "x", "type": "quantitative"}, "y": {"field": "y", "type": "quantitative"}, "x2": {"datum": 0}, "y2": {"datum": 0}}},
 {"data": {"name": "vec"}, "transform": [{"filter": "datum.p == 'h'"}, {"calculate": "atan2(datum.x * 242.3, datum.y * 727.6) * 180 / PI", "as": "ang"}], "mark": {"type": "point", "shape": "triangle", "filled": true, "color": "#C2528F", "size": 26, "opacity": 1}, "encoding": {"x": {"field": "x", "type": "quantitative"}, "y": {"field": "y", "type": "quantitative"}, "angle": {"field": "ang", "type": "quantitative", "scale": null}}},
 {"data": {"name": "vec"}, "transform": [{"filter": "datum.p == 'h' && isValid(datum.ax)"}], "mark": {"type": "rule", "color": "black", "strokeWidth": 2.6}, "encoding": {"x": {"field": "ax", "type": "quantitative"}, "y": {"field": "ay", "type": "quantitative"}, "x2": {"field": "bx"}, "y2": {"field": "by"}}},
 {"data": {"name": "vec"}, "transform": [{"filter": "datum.p == 'h'"}], "mark": {"type": "text"}, "encoding": {"x": {"field": "tx", "type": "quantitative"}, "y": {"field": "ty", "type": "quantitative"}, "text": {"field": "n"}}},
 {"data": {"name": "site"}, "transform": [{"filter": "datum.p == 'h'"}], "mark": {"type": "point", "shape": "circle", "filled": true, "color": "#FF1A1A", "size": 55, "opacity": 1}, "encoding": {"x": {"field": "x", "type": "quantitative"}, "y": {"field": "y", "type": "quantitative"}}},
 {"data": {"name": "site"}, "transform": [{"filter": "datum.p == 'h'"}], "mark": {"type": "text"}, "encoding": {"x": {"field": "tx", "type": "quantitative"}, "y": {"field": "ty", "type": "quantitative"}, "text": {"field": "n"}}}
]}
]}
],
"spacing": 2
}
